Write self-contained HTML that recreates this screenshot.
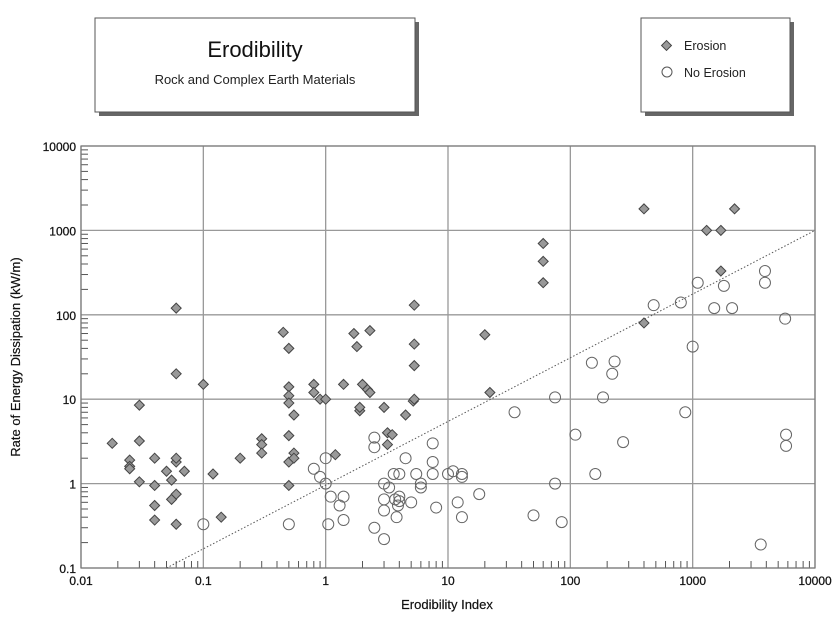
<!DOCTYPE html>
<html><head><meta charset="utf-8"><style>
html,body{margin:0;padding:0;background:#fff;}
svg{display:block;font-family:"Liberation Sans",Arial,sans-serif;}
</style></head><body>
<svg id="chart" width="838" height="623" viewBox="0 0 838 623">
  <g>
    <rect x="99" y="22" width="320" height="94" fill="#666"/>
    <rect x="95" y="18" width="320" height="94" fill="#fff" stroke="#555" stroke-width="1"/>
    <text x="255" y="57" text-anchor="middle" font-size="22" fill="#111">Erodibility</text>
    <text x="255" y="84" text-anchor="middle" font-size="13" fill="#222">Rock and Complex Earth Materials</text>
  </g>
  <g>
    <rect x="645" y="22" width="149" height="94" fill="#666"/>
    <rect x="641" y="18" width="149" height="94" fill="#fff" stroke="#555" stroke-width="1"/>
    <g>
      <rect x="663" y="42" width="7" height="7" fill="#999" stroke="#444" transform="rotate(45 666.5 45.5)"/>
      <text x="684" y="50" font-size="12.5" fill="#222">Erosion</text>
    </g>
    <g>
      <circle cx="667" cy="72" r="5" fill="none" stroke="#555"/>
      <text x="684" y="77" font-size="12.5" fill="#222">No Erosion</text>
    </g>
  </g>
  <g id="plot"></g>
  <text x="447" y="609" text-anchor="middle" font-size="13" fill="#111" stroke="#111" stroke-width="0.2">Erodibility Index</text>
  <text transform="translate(20 357) rotate(-90)" text-anchor="middle" font-size="13" fill="#111" stroke="#111" stroke-width="0.2">Rate of Energy Dissipation (kW/m)</text>
</svg>
<script>
const xTicks=[0.01,0.1,1,10,100,1000,10000];
const xTickLabels=["0.01","0.1","1","10","100","1000","10000"];
const yTicks=[0.1,1,10,100,1000,10000];
const yTickLabels=["0.1","1","10","100","1000","10000"];
const erosionX=[0.018,0.025,0.025,0.025,0.03,0.03,0.03,0.04,0.04,0.04,0.04,0.05,0.055,0.055,0.06,0.06,0.06,0.06,0.06,0.06,0.07,0.1,0.12,0.14,0.2,0.3,0.3,0.3,0.45,0.5,0.5,0.5,0.5,0.5,0.5,0.5,0.55,0.55,0.55,0.8,0.8,0.9,1.0,1.4,1.7,1.8,1.9,1.9,2.0,2.2,2.3,2.3,3.0,3.2,3.5,3.2,4.5,5.2,5.3,5.3,5.3,5.3,1.2,20,22,60,60,60,400,400,1300,1700,1700,2200];
const erosionY=[3,1.9,1.6,1.5,8.5,3.2,1.05,2,0.95,0.55,0.37,1.4,1.1,0.65,0.33,0.75,1.8,2,120,20,1.4,15,1.3,0.4,2,3.4,2.9,2.3,62,40,14,11,9,3.7,1.8,0.95,2.3,6.5,2,15,12,10,10,15,60,42,7.3,8,15,13,12,65,8,4,3.8,2.9,6.5,9.5,130,45,25,10,2.2,58,12,700,430,240,1800,80,1000,1000,330,1800];
const noErosionX=[0.1,0.5,0.8,0.9,1.0,1.0,1.1,1.05,1.3,1.4,1.4,2.5,2.5,2.5,3,3,3,3,3.3,3.6,3.8,3.7,3.9,4,4,4.5,4.0,5,5.5,6,6,7.5,7.5,7.5,8,10,11,12,13,13,13,18,35,50,75,75,85,110,150,160,185,220,230,270,480,800,870,1000,1100,1500,1800,2100,3600,3900,3900,5700,5800,5800];
const noErosionY=[0.33,0.33,1.5,1.2,2.0,1.0,0.7,0.33,0.55,0.7,0.37,3.5,2.7,0.3,0.65,0.22,0.48,1.0,0.9,1.3,0.4,0.65,0.55,1.3,0.7,2.0,0.62,0.6,1.3,1.0,0.9,3,1.8,1.3,0.52,1.3,1.4,0.6,0.4,1.3,1.2,0.75,7,0.42,10.5,1.0,0.35,3.8,27,1.3,10.5,20,28,3.1,130,140,7,42,240,120,220,120,0.19,330,240,90,3.8,2.8];
const trendX=[0.05,10000];
const trendY=[0.1,1000];

const NS="http://www.w3.org/2000/svg";
const L=81,R=815,T=146,B=568;
function sx(v){return L+(Math.log10(v)+2)/6*(R-L);}
function sy(v){return B-(Math.log10(v)+1)/5*(B-T);}
const g=document.getElementById('plot');
function mk(tag,attrs){const e=document.createElementNS(NS,tag);for(const k in attrs)e.setAttribute(k,attrs[k]);g.appendChild(e);return e;}

// grid + labels
xTicks.forEach((v,i)=>{const x=sx(v);
  const l=mk('line',{x1:x,x2:x,y1:T,y2:B,stroke:'#999','stroke-width':1.3});
  
  
  const t=mk('text',{x:x,y:B+17,'text-anchor':'middle','font-size':12,fill:'#111',stroke:'#111','stroke-width':0.25});
  t.textContent=xTickLabels[i];
  
  });
yTicks.forEach((v,i)=>{const y=sy(v);
  const l=mk('line',{x1:L,x2:R,y1:y,y2:y,stroke:'#999','stroke-width':1.3});
  
  
  const t=mk('text',{x:L-5,y:y+5,'text-anchor':'end','font-size':12,fill:'#111',stroke:'#111','stroke-width':0.25});
  t.textContent=yTickLabels[i];
  
  });
// minor ticks
for(let d=-2;d<4;d++)for(let m=2;m<10;m++){const x=sx(m*Math.pow(10,d));
  const t=mk('line',{x1:x,x2:x,y1:B,y2:B-7,stroke:'#555','stroke-width':1});
  
  }
for(let d=-1;d<4;d++)for(let m=2;m<10;m++){const y=sy(m*Math.pow(10,d));
  const t=mk('line',{x1:L,x2:L+7,y1:y,y2:y,stroke:'#555','stroke-width':1});
  
  }
const fr=mk('rect',{x:L,y:T,width:R-L,height:B-T,fill:'none',stroke:'#777','stroke-width':1.2});


// trend line
const tl=mk('line',{x1:sx(trendX[0]),y1:sy(trendY[0]),x2:sx(trendX[1]),y2:sy(trendY[1]),stroke:'#555','stroke-width':1,'stroke-dasharray':'1.5,2'});


// circles
noErosionX.forEach((v,i)=>{
  const c=mk('circle',{cx:sx(v),cy:sy(noErosionY[i]),r:5.5,fill:'none',stroke:'#666','stroke-width':1});
  
  });
// diamonds
erosionX.forEach((v,i)=>{const x=sx(v),y=sy(erosionY[i]);
  const p=mk('polygon',{points:`${x},${y-5} ${x+5},${y} ${x},${y+5} ${x-5},${y}`,fill:'#999',stroke:'#444','stroke-width':1});
  
  });
</script>
</body></html>
